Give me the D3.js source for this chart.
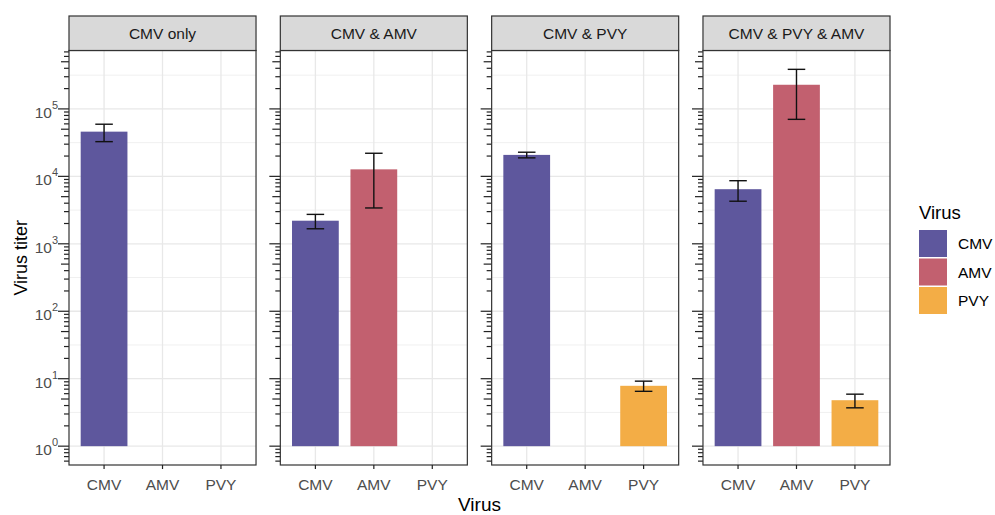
<!DOCTYPE html>
<html>
<head>
<meta charset="utf-8">
<script src="https://cdn.jsdelivr.net/npm/d3@7"></script>
<style>
  body { margin: 0; background: #fff; }
  svg { font-family: "Liberation Sans", Arial, sans-serif; }
</style>
</head>
<body>
<div id="chart"></div>
<script>
// data
var panels = ["CMV only", "CMV & AMV", "CMV & PVY", "CMV & PVY & AMV"];
var viruses = ["CMV", "AMV", "PVY"];
var virusColors = ["#5E579D", "#C2606F", "#F3AD46"];

var barPanel = ["CMV only", "CMV & AMV", "CMV & AMV", "CMV & PVY", "CMV & PVY",
  "CMV & PVY & AMV", "CMV & PVY & AMV", "CMV & PVY & AMV"];
var barVirus = ["CMV", "CMV", "AMV", "CMV", "PVY", "CMV", "AMV", "PVY"];
var titerMean = [46000, 2200, 12700, 20800, 7.85, 6450, 228000, 4.8];
var titerSE = [13300, 530, 9300, 2000, 1.35, 2170, 158000, 1.1];

var yTickExp = [0, 1, 2, 3, 4, 5];

var width = 995;
var height = 515;

var plotLeft = 69;
var plotRight = 890;
var stripTop = 16;
var stripBottom = 50.5;
var panelBottom = 465;

var svg = d3
  .select("#chart")
  .append("svg")
  .attr("width", width)
  .attr("height", height);

var bars = barPanel.map(function (p, i) {
  return { panel: p, virus: barVirus[i], mean: titerMean[i], se: titerSE[i] };
});

// y log scale with ggplot style 5% expansion (in log space)
var lmin = 0;
var lmax = d3.max(bars, function (d) { return Math.log10(d.mean + d.se); });
var ex = (lmax - lmin) * 0.05;
var y = d3
  .scaleLog()
  .domain([Math.pow(10, lmin - ex), Math.pow(10, lmax + ex)])
  .range([panelBottom, stripBottom]);

var panelScale = d3
  .scaleBand()
  .domain(panels)
  .range([plotLeft, plotRight])
  .paddingInner(0.115);
var pw = panelScale.bandwidth();

var x = d3.scalePoint().domain(viruses).range([0, pw]).padding(0.6);
var step = x.step();

var color = d3.scaleOrdinal().domain(viruses).range(virusColors);

// log ticks 1..9 x 10^k
var logTicks = [];
for (var k = -1; k <= 6; k++) {
  for (var m = 1; m <= 9; m++) {
    var v = m * Math.pow(10, k);
    if (v >= y.domain()[0] && v <= y.domain()[1]) logTicks.push({ v: v, m: m });
  }
}
var minorGrid = yTickExp.map(function (e) { return Math.pow(10, e + 0.5); })
  .concat([Math.pow(10, -0.5)])
  .filter(function (v) { return v >= y.domain()[0] && v <= y.domain()[1]; });

var panelG = svg
  .selectAll(".panel")
  .data(panels)
  .enter()
  .append("g")
  .attr("class", "panel")
  .attr("transform", function (d) { return "translate(" + panelScale(d) + ",0)"; });

// grid
panelG.selectAll(".gminor")
  .data(minorGrid)
  .enter()
  .append("line")
  .attr("x1", 0).attr("x2", pw)
  .attr("y1", function (d) { return y(d); })
  .attr("y2", function (d) { return y(d); })
  .attr("stroke", "#F0F0F0")
  .attr("stroke-width", 1);

panelG.selectAll(".gmajor")
  .data(yTickExp)
  .enter()
  .append("line")
  .attr("x1", 0).attr("x2", pw)
  .attr("y1", function (d) { return y(Math.pow(10, d)); })
  .attr("y2", function (d) { return y(Math.pow(10, d)); })
  .attr("stroke", "#E8E8E8")
  .attr("stroke-width", 1.3);

panelG.selectAll(".gx")
  .data(viruses)
  .enter()
  .append("line")
  .attr("x1", function (d) { return x(d); })
  .attr("x2", function (d) { return x(d); })
  .attr("y1", stripBottom).attr("y2", panelBottom)
  .attr("stroke", "#E8E8E8")
  .attr("stroke-width", 1.3);

// bars
panelG.each(function (p) {
  var g = d3.select(this);
  var rows = bars.filter(function (d) { return d.panel === p; });

  g.selectAll(".bar")
    .data(rows)
    .enter()
    .append("rect")
    .attr("class", "bar")
    .attr("x", function (d) { return x(d.virus) - step * 0.4; })
    .attr("width", step * 0.8)
    .attr("y", function (d) { return y(d.mean); })
    .attr("height", function (d) { return y(1) - y(d.mean); })
    .attr("fill", function (d) { return color(d.virus); });

  var eb = g.selectAll(".err")
    .data(rows)
    .enter()
    .append("g")
    .attr("class", "err")
    .attr("stroke", "#111")
    .attr("stroke-width", 1.4);
  eb.append("line")
    .attr("x1", function (d) { return x(d.virus); })
    .attr("x2", function (d) { return x(d.virus); })
    .attr("y1", function (d) { return y(d.mean + d.se); })
    .attr("y2", function (d) { return y(d.mean - d.se); });
  eb.append("line")
    .attr("x1", function (d) { return x(d.virus) - step * 0.15; })
    .attr("x2", function (d) { return x(d.virus) + step * 0.15; })
    .attr("y1", function (d) { return y(d.mean + d.se); })
    .attr("y2", function (d) { return y(d.mean + d.se); });
  eb.append("line")
    .attr("x1", function (d) { return x(d.virus) - step * 0.15; })
    .attr("x2", function (d) { return x(d.virus) + step * 0.15; })
    .attr("y1", function (d) { return y(d.mean - d.se); })
    .attr("y2", function (d) { return y(d.mean - d.se); });
});

// log ticks outside the left border
panelG.selectAll(".lt")
  .data(logTicks)
  .enter()
  .append("line")
  .attr("x1", function (d) { return d.m === 1 ? -11 : d.m === 5 ? -8 : -5; })
  .attr("x2", 0)
  .attr("y1", function (d) { return y(d.v); })
  .attr("y2", function (d) { return y(d.v); })
  .attr("stroke", "#222")
  .attr("stroke-width", 1.2);

// panel border + strip
panelG.append("rect")
  .attr("x", 0).attr("y", stripBottom)
  .attr("width", pw).attr("height", panelBottom - stripBottom)
  .attr("fill", "none")
  .attr("stroke", "#333")
  .attr("stroke-width", 1.2);

panelG.append("rect")
  .attr("x", 0).attr("y", stripTop)
  .attr("width", pw).attr("height", stripBottom - stripTop)
  .attr("fill", "#D9D9D9")
  .attr("stroke", "#333")
  .attr("stroke-width", 1.2);

panelG.append("text")
  .attr("x", pw / 2)
  .attr("y", (stripTop + stripBottom) / 2 + 5.5)
  .attr("text-anchor", "middle")
  .attr("font-size", 15.5)
  .attr("fill", "#1A1A1A")
  .text(function (d) { return d; });

// x ticks + labels
panelG.selectAll(".xt")
  .data(viruses)
  .enter()
  .append("line")
  .attr("x1", function (d) { return x(d); })
  .attr("x2", function (d) { return x(d); })
  .attr("y1", panelBottom).attr("y2", panelBottom + 4)
  .attr("stroke", "#222")
  .attr("stroke-width", 1.2);

panelG.selectAll(".xl")
  .data(viruses)
  .enter()
  .append("text")
  .attr("x", function (d) { return x(d); })
  .attr("y", panelBottom + 25)
  .attr("text-anchor", "middle")
  .attr("font-size", 15.5)
  .attr("fill", "#4D4D4D")
  .text(function (d) { return d; });

// y tick labels (first panel only)
var yl = svg.append("g")
  .selectAll("text")
  .data(yTickExp)
  .enter()
  .append("text")
  .attr("x", plotLeft - 11)
  .attr("y", function (d) { return y(Math.pow(10, d)) + 9; })
  .attr("text-anchor", "end")
  .attr("fill", "#4D4D4D");
yl.append("tspan").attr("font-size", 15.5).text("10");
yl.append("tspan")
  .attr("font-size", 11)
  .attr("dy", -9)
  .text(function (d) { return d; });

// axis titles
svg.append("text")
  .attr("x", (plotLeft + plotRight) / 2)
  .attr("y", 511)
  .attr("text-anchor", "middle")
  .attr("font-size", 19)
  .attr("fill", "#000")
  .text("Virus");

svg.append("text")
  .attr("transform", "translate(27," + (stripBottom + panelBottom) / 2 + ") rotate(-90)")
  .attr("text-anchor", "middle")
  .attr("font-size", 18)
  .attr("fill", "#000")
  .text("Virus titer");

// legend
var legend = svg.append("g").attr("transform", "translate(919,0)");
legend.append("text")
  .attr("x", 0)
  .attr("y", 219)
  .attr("font-size", 18.5)
  .attr("fill", "#000")
  .text("Virus");

var li = legend.selectAll(".li")
  .data(viruses)
  .enter()
  .append("g")
  .attr("transform", function (d, i) { return "translate(0," + (230 + i * 28.5) + ")"; });
li.append("rect")
  .attr("width", 28)
  .attr("height", 27)
  .attr("fill", function (d) { return color(d); });
li.append("text")
  .attr("x", 39)
  .attr("y", 19)
  .attr("font-size", 15.5)
  .attr("fill", "#000")
  .text(function (d) { return d; });
</script>
</body>
</html>
